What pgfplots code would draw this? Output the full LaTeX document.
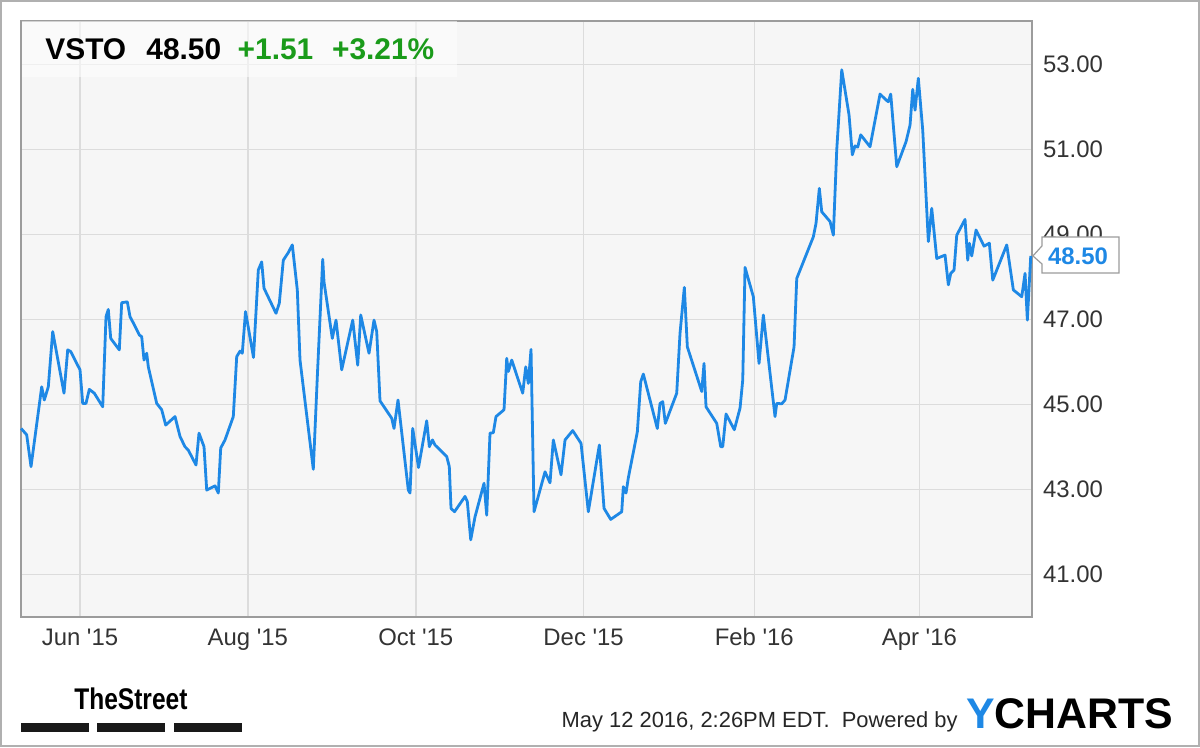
\documentclass[border=0pt]{standalone}
\usepackage{fontspec}
\setmainfont{Liberation Sans}
\newfontfamily\streetfont[FakeStretch=0.82]{Liberation Sans}
\usepackage{pgfplots}
\pgfplotsset{compat=1.18}
\definecolor{linec}{HTML}{1E88E5}
\definecolor{gridc}{HTML}{DCDCDC}
\definecolor{plotbg}{HTML}{F6F6F6}
\definecolor{upg}{HTML}{1A9B1A}
\definecolor{framec}{HTML}{9C9C9C}
\definecolor{txt}{HTML}{333333}
\begin{document}
\begin{tikzpicture}
\begin{scope}[x=0.5bp,y=0.5bp]
\fill[white] (0,0) rectangle (1200,747);
\draw[framec!80, line width=1bp] (1,1) rectangle (1199,746);
\end{scope}
\begin{axis}[
  at={(10.5bp,65.15bp)}, anchor=south west,
  scale only axis, width=505.35bp, height=297.85bp,
  xmin=-21.44, xmax=345.82, ymin=40.01, ymax=54.03,
  axis background/.style={fill=plotbg},
  axis line style={framec, line width=0.9bp},
  grid=major, major grid style={gridc, line width=0.75bp},
  major tick length=0pt,
  xtick={0,61,122,183,245,305},
  xticklabels={Jun \textquotesingle15, Aug \textquotesingle15, Oct \textquotesingle15, Dec \textquotesingle15, Feb \textquotesingle16, Apr \textquotesingle16},
  ytick={41,43,45,47,49,51,53},
  yticklabel pos=right,
  yticklabel={\pgfmathprintnumber[fixed,fixed zerofill,precision=2]{\tick}},
  /pgf/number format/assume math mode=true,
  ticklabel style={font=\fontsize{12}{14}\selectfont, text=txt},
  x tick label style={anchor=base, inner sep=0pt, yshift=-14.6bp},
  y tick label style={anchor=west, inner sep=0pt, xshift=5.5bp},
  clip=false,
]
\addplot[linec, line width=1.4bp, line join=round, mark=none] coordinates {
(-21.4,44.44) (-19.37,44.29) (-17.80,43.54) (-13.92,45.42) (-12.97,45.11)
(-11.52,45.42) (-9.92,46.72) (-5.81,45.27) (-4.47,46.29) (-3.38,46.25)
(0,45.82) (0.98,45.03) (2.18,45.03) (3.38,45.36) (5.20,45.27)
(8.25,44.95) (9.45,47.07) (10.28,47.24) (11.16,46.56) (14.28,46.29)
(15.15,47.40) (17.19,47.42) (18.17,47.07) (19.73,46.88) (21.55,46.64)
(22.42,46.60) (23.26,46.05) (24.24,46.21) (24.82,45.89) (27.87,45.03)
(29.69,44.88) (31.14,44.52) (34.52,44.72) (36.34,44.25) (38.15,44.01)
(39.35,43.93) (42.15,43.58) (43.24,44.33) (45.06,44.01) (46.04,42.99)
(49.06,43.09) (50.25,42.92) (51.13,43.98) (52.69,44.17) (55.70,44.72)
(56.94,46.13) (58.14,46.26) (58.97,46.21) (60.14,47.19) (61.52,46.68)
(63.04,46.11) (64.79,48.17) (66.02,48.36) (66.86,47.74) (71.22,47.15)
(72.42,47.39) (73.87,48.40) (75.69,48.58) (77.14,48.76) (78.96,47.70)
(79.94,46.05) (84.77,43.48) (86.23,45.66) (88.19,48.42) (88.66,47.89)
(91.68,46.56) (93.02,46.99) (95.09,45.82) (99.09,46.99) (100.91,45.93)
(102.00,47.11) (105.01,46.21) (106.83,46.99) (107.81,46.72) (109.01,45.09)
(113.26,44.68) (114.10,44.44) (115.55,45.11) (119.29,42.99) (119.91,42.92)
(120.89,44.44) (123.00,43.52) (125.98,44.62) (126.93,44.01) (128.09,44.17)
(129.00,44.05) (133.25,43.78) (134.19,43.54) (134.81,42.56) (136.08,42.48)
(139.90,42.84) (140.73,42.72) (141.97,41.82) (143.53,42.36) (146.80,43.15)
(147.78,42.40) (148.98,44.33) (150.18,44.34) (151.16,44.72) (154.07,44.88)
(155.05,46.09) (155.63,45.78) (156.87,46.05) (160.86,45.27) (161.96,45.89)
(162.90,45.50) (163.88,46.30) (164.97,42.48) (168.97,43.42) (170.78,43.16)
(171.98,44.17) (174.78,43.35) (176.24,44.17) (179.03,44.39) (182.05,44.09)
(184.70,42.48) (188.70,44.05) (190.41,42.56) (192.84,42.30) (196.84,42.48)
(197.42,43.07) (198.40,42.92) (199.24,43.28) (202.51,44.36) (203.74,45.54)
(204.69,45.72) (209.77,44.44) (210.76,45.03) (211.74,45.07) (212.68,44.56)
(216.82,45.27) (218.02,46.68) (219.59,47.76) (220.68,46.36) (225.91,45.31)
(226.74,45.97) (227.47,44.95) (231.36,44.56) (232.81,44.01) (233.54,44.01)
(234.74,44.78) (237.75,44.41) (239.83,44.92) (240.81,45.58) (241.64,48.23)
(244.66,47.54) (246.73,45.97) (248.29,47.11) (252.54,44.72) (253.16,45.03)
(254.98,45.02) (256.18,45.11) (259.45,46.36) (260.43,47.97) (266.46,48.95)
(267.44,49.27) (268.64,50.09) (269.51,49.54) (272.53,49.31) (273.73,48.99)
(274.96,50.99) (276.78,52.88) (279.43,51.82) (280.63,50.88) (281.61,51.09)
(282.59,51.06) (283.68,51.35) (287.06,51.07) (290.70,52.31) (292.88,52.17)
(293.71,52.13) (294.58,52.31) (296.77,50.60) (300.15,51.19) (301.60,51.58)
(302.58,52.42) (303.42,51.93) (304.61,52.68) (306.21,51.46) (308.25,48.84)
(309.48,49.62) (311.30,48.44) (314.32,48.52) (315.52,47.82) (316.39,48.09)
(317.59,48.17) (318.57,48.99) (321.58,49.36) (322.56,48.40) (323.15,48.80)
(324.02,48.50) (325.58,49.11) (328.49,48.73) (330.41,48.80) (331.65,47.93)
(336.74,48.76) (339.14,47.70) (342.19,47.54) (343.39,48.09) (344.22,46.99)
(345.46,48.50)
};
\coordinate (tip) at (axis cs:345.82,48.5);
\end{axis}
% last-price tag
\draw[framec, line width=0.6bp, fill=white]
  ([xshift=0.6bp]tip) -- ++(4.5bp,5bp) -- ++(0bp,4.5bp) -- ++(38.5bp,0bp) -- ++(0bp,-18bp)
  -- ++(-38.5bp,0bp) -- ++(0bp,4.5bp) -- cycle;
\node[anchor=base west, inner sep=0pt, text=linec, font=\fontsize{12}{14}\selectfont\bfseries]
  at ([xshift=8bp,yshift=-4.5bp]tip) {48.50};
\begin{scope}[x=0.5bp,y=0.5bp]
% header box
\fill[white, opacity=0.55] (21.5,670) rectangle (457,725.5);
\node[anchor=base west, inner sep=0pt, font=\fontsize{15}{18}\selectfont\bfseries] at (45,687) {VSTO};
\node[anchor=base west, inner sep=0pt, font=\fontsize{15}{18}\selectfont\bfseries] at (146,687) {48.50};
\node[anchor=base west, inner sep=0pt, text=upg, font=\fontsize{15}{18}\selectfont\bfseries] at (237.3,687) {+1.51};
\node[anchor=base west, inner sep=0pt, text=upg, font=\fontsize{15}{18}\selectfont\bfseries] at (331.7,687) {+3.21\%};
% footer
\node[anchor=base west, inner sep=0pt, font=\streetfont\fontsize{15}{16}\selectfont\bfseries] at (74,37.7) {TheStreet};
\fill[black!90] (20.7,14.7) rectangle (89.3,23.7);
\fill[black!90] (97.3,14.7) rectangle (165,23.7);
\fill[black!90] (174,14.7) rectangle (241.7,23.7);
\node[anchor=base east, inner sep=0pt, text=black!85, font=\fontsize{11}{12}\selectfont] at (958,20) {May 12 2016, 2:26PM EDT.\ \ Powered by};
\node[anchor=base west, inner sep=0pt, font=\fontsize{21.5}{24}\selectfont\bfseries] at (966,19) {\textcolor{linec}{Y}CHARTS};
\end{scope}
\end{tikzpicture}
\end{document}
